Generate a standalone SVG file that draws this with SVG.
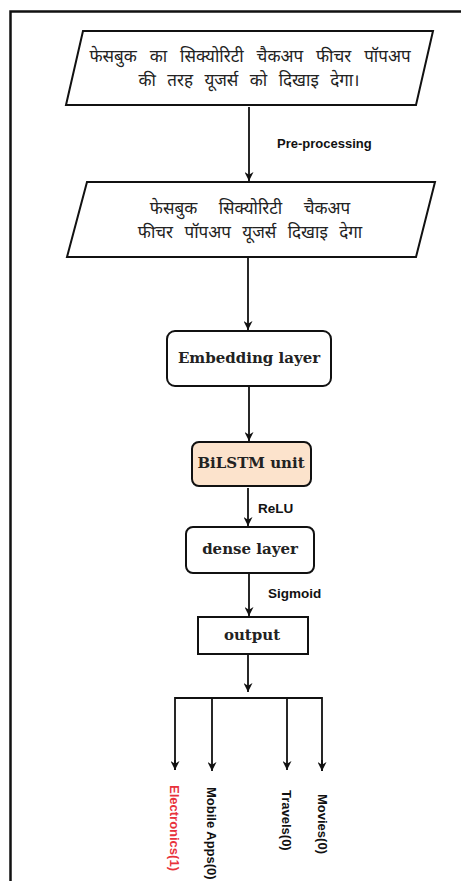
<svg xmlns="http://www.w3.org/2000/svg" width="461" height="881" viewBox="0 0 461 881">
<defs>
<style>
.frame{fill:none;stroke:#111;stroke-width:2.5}
.shape{fill:#fff;stroke:#111;stroke-width:2}
.hi{font-family:"Noto Sans Devanagari","Noto Sans","Lohit Devanagari",sans-serif;font-size:17px;fill:#222;text-anchor:middle;word-spacing:7px}
.serif{font-family:"DejaVu Serif","Liberation Serif",serif;font-weight:bold;font-size:15px;fill:#222;text-anchor:middle}
.lbl{font-family:"Liberation Sans",Arial,sans-serif;font-weight:bold;font-size:13.5px;fill:#111}
.cat{font-family:"Liberation Sans",Arial,sans-serif;font-weight:bold;font-size:13px;fill:#111}
.edge{fill:none;stroke:#111;stroke-width:1.8}
</style>
<marker id="arr" viewBox="0 0 10 10" refX="10" refY="5" markerWidth="9" markerHeight="9" markerUnits="userSpaceOnUse" orient="auto">
<path d="M0,0 L10,5 L0,10 L3,5 z" fill="#111"/>
</marker>
</defs>
<rect width="461" height="881" fill="#fff"/>
<path class="frame" d="M10.5,881 V11.5 H461"/>

<g id="input">
<polygon class="shape" points="83,31 433,31 416,105 66,105"/>
<text class="hi" x="250" y="62" style="word-spacing:8.5px">फेसबुक का सिक्योरिटी चैकअप फीचर पॉपअप</text>
<text class="hi" x="249" y="86">की तरह यूजर्स को दिखाइ देगा।</text>
</g>

<g id="preprocessed">
<polygon class="shape" points="87,182 435,182 416,257 67,257"/>
<text class="hi" x="250" y="214" style="word-spacing:17px">फेसबुक सिक्योरिटी चैकअप</text>
<text class="hi" x="250" y="238" style="word-spacing:7px">फीचर पॉपअप यूजर्स दिखाइ देगा</text>
</g>

<g id="embedding">
<rect class="shape" x="167" y="331" width="164" height="55" rx="8"/>
<text class="serif" x="249" y="363">Embedding layer</text>
</g>

<g id="bilstm">
<rect class="shape" x="192" y="442" width="119" height="44" rx="7" style="fill:#fce3cc"/>
<text class="serif" x="251" y="468">BiLSTM unit</text>
</g>

<g id="dense">
<rect class="shape" x="186" y="527" width="128" height="46" rx="7"/>
<text class="serif" x="250" y="554">dense layer</text>
</g>

<g id="output">
<rect class="shape" x="198" y="617" width="110" height="37"/>
<text class="serif" x="252" y="640">output</text>
</g>

<g id="connectors">
<line class="edge" x1="249" y1="107" x2="249" y2="181" marker-end="url(#arr)"/>
<text class="lbl" x="277" y="148" style="font-size:13px">Pre-processing</text>
<line class="edge" x1="248" y1="257" x2="248" y2="330" marker-end="url(#arr)"/>
<line class="edge" x1="249" y1="386" x2="249" y2="441" marker-end="url(#arr)"/>
<line class="edge" x1="248" y1="488" x2="248" y2="526" marker-end="url(#arr)"/>
<text class="lbl" x="258" y="513">ReLU</text>
<line class="edge" x1="249" y1="574" x2="249" y2="616" marker-end="url(#arr)"/>
<text class="lbl" x="268" y="598">Sigmoid</text>
<line class="edge" x1="248" y1="655" x2="248" y2="692" marker-end="url(#arr)"/>
<path class="edge" d="M175,770 V698 H322 V771"/>
<line class="edge" x1="175" y1="760" x2="175" y2="770" marker-end="url(#arr)"/>
<line class="edge" x1="322" y1="760" x2="322" y2="771" marker-end="url(#arr)"/>
<line class="edge" x1="212" y1="698" x2="212" y2="771" marker-end="url(#arr)"/>
<line class="edge" x1="287" y1="698" x2="287" y2="770" marker-end="url(#arr)"/>
</g>

<g id="labels">
<text class="cat" transform="translate(170,785) rotate(90)" style="fill:#e8323c">Electronics(1)</text>
<text class="cat" transform="translate(207,787) rotate(90)">Mobile Apps(0)</text>
<text class="cat" transform="translate(282,790) rotate(90)">Travels(0)</text>
<text class="cat" transform="translate(318,794) rotate(90)">Movies(0)</text>
</g>
</svg>
